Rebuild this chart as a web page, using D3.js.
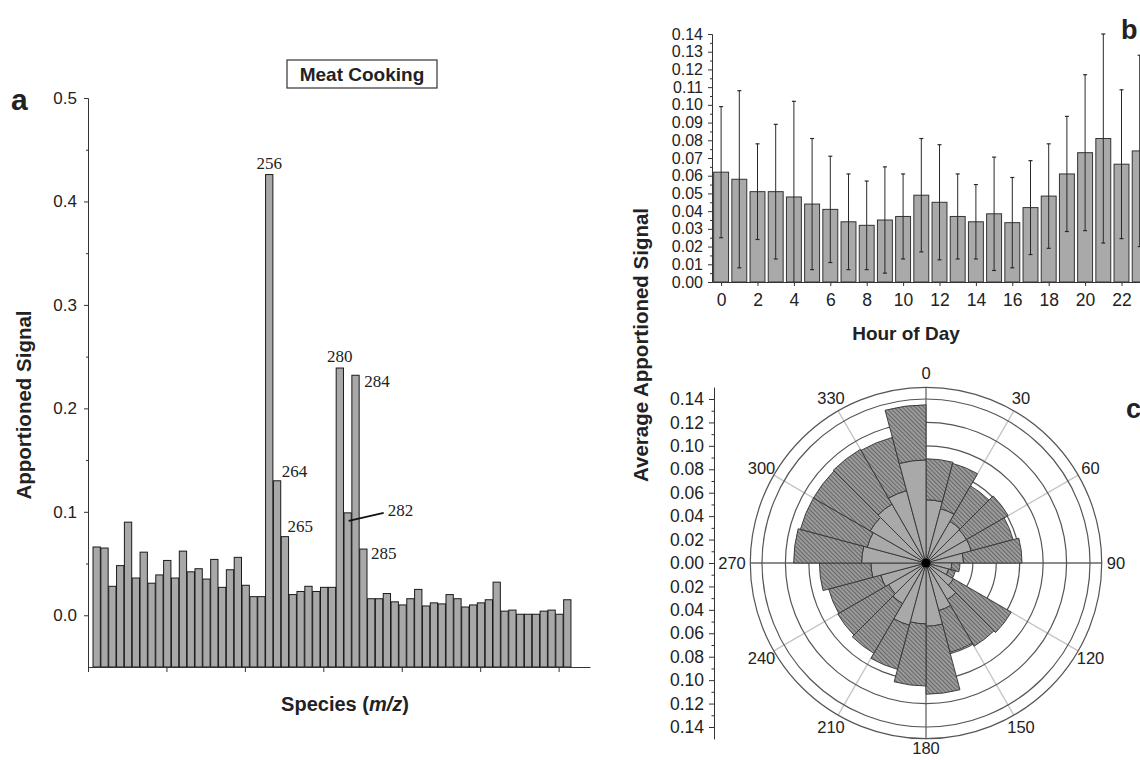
<!DOCTYPE html>
<html><head><meta charset="utf-8">
<script src="https://cdn.jsdelivr.net/npm/d3@7"></script>
<style>
body{margin:0;background:#fff}
svg{display:block}
text{font-family:"Liberation Sans",Arial,sans-serif;fill:#222}
</style>
</head><body>
<svg id="chart" width="1140" height="760"></svg>
<script>
// ---------- DATA ----------
// Panel a: apportioned signal per species (61 categories, m/z order)
const speciesSignal = [
  0.066,0.065,0.028,0.048,0.090,0.036,0.061,0.031,0.039,0.053,
  0.036,0.062,0.042,0.045,0.035,0.054,0.027,0.044,0.056,0.029,
  0.018,0.018,0.426,0.130,0.076,0.020,0.023,0.028,0.023,0.027,
  0.027,0.239,0.099,0.232,0.064,0.016,0.016,0.021,0.013,0.010,
  0.016,0.025,0.009,0.012,0.011,0.020,0.016,0.008,0.010,0.012,
  0.015,0.032,0.004,0.005,0.001,0.001,0.001,0.004,0.005,0.001,
  0.015
];
const annotIndex = [22,23,24,31,32,33,34];
const annotText  = ["256","264","265","280","282","284","285"];
const yTicksA = [0.0,0.1,0.2,0.3,0.4,0.5];

// Panel b: hour of day
const hours    = [0,1,2,3,4,5,6,7,8,9,10,11,12,13,14,15,16,17,18,19,20,21,22,23];
const hourMean = [0.062,0.058,0.051,0.051,0.048,0.044,0.041,0.034,0.032,0.035,0.037,0.049,
                  0.045,0.037,0.034,0.0385,0.0335,0.042,0.0485,0.061,0.073,0.081,0.0665,0.074];
const hourSD   = [0.037,0.050,0.027,0.038,0.054,0.037,0.030,0.027,0.025,0.030,0.024,0.032,
                  0.0325,0.024,0.021,0.032,0.0255,0.0265,0.0295,0.0325,0.044,0.059,0.042,0.054];
const hourTickLabels = [0,2,4,6,8,10,12,14,16,18,20,22];

// Panel c: wind direction rose (15 degree bins)
const dirStart = [0,15,30,45,60,75,90,105,120,135,150,165,180,195,210,225,240,255,270,285,300,315,330,345];
const roseInner = [0.054,0.048,0.041,0.040,0.040,0.032,0.022,0.020,0.027,0.036,0.042,0.054,
                   0.052,0.055,0.040,0.037,0.040,0.047,0.055,0.052,0.055,0.058,0.064,0.088];
const roseOuter = [0.089,0.088,0.076,0.081,0.077,0.082,0.029,0.026,0.084,0.082,0.079,0.112,
                   0.105,0.094,0.089,0.087,0.086,0.091,0.113,0.111,0.111,0.112,0.111,0.135];
const angleLabels = [0,30,60,90,120,150,180,210,240,270,300,330];

// ---------- DRAW ----------
const svg = d3.select("#chart");
const FONT = '"Liberation Sans",Arial,sans-serif';

function styleAxis(g, size){
  g.attr("font-family", FONT).attr("font-size", size);
  g.selectAll("path,line").attr("stroke","#333").attr("stroke-width",1);
  g.selectAll("text").attr("fill","#222");
}

// ===== Panel a =====
const xA = d3.scaleLinear().domain([0,64]).range([88,590]);
const yA = d3.scaleLinear().domain([-0.05,0.5]).range([667,98]);
const gA = svg.append("g");

gA.selectAll("rect").data(speciesSignal).join("rect")
  .attr("x",(d,i)=>xA(i+0.64))
  .attr("width", xA(0.93)-xA(0))
  .attr("y", d=>yA(d))
  .attr("height", d=>yA(-0.05)-yA(d))
  .attr("fill","#a8a8a8").attr("stroke","#1a1a1a").attr("stroke-width",1);

const axA = gA.append("g").attr("transform","translate(88,0)")
  .call(d3.axisLeft(yA).tickValues(yTicksA).tickFormat(d3.format(".1f")).tickSize(4).tickSizeOuter(0).tickPadding(7));
styleAxis(axA, 17);
const axAm = gA.append("g").attr("transform","translate(88,0)")
  .call(d3.axisLeft(yA).tickValues([0.05,0.15,0.25,0.35,0.45]).tickFormat("").tickSize(2).tickSizeOuter(0));
styleAxis(axAm, 17);
const axAx = gA.append("g").attr("transform","translate(0,667)")
  .call(d3.axisBottom(xA).tickValues([0,10,20,30,40,50,60]).tickFormat("").tickSize(5).tickSizeOuter(0));
styleAxis(axAx, 17);

// annotations
const barW = xA(0.93)-xA(0);
annotIndex.forEach((idx,k)=>{
  const v = speciesSignal[idx];
  const left = xA(idx+0.64), right = left+barW, cx = left+barW/2, top = yA(v);
  const t = annotText[k];
  let x, y, anchor="start";
  if (t==="256" || t==="280"){ x=cx; y=top-6; anchor="middle"; }
  else if (t==="264"){ x=right+1; y=top-4; }
  else if (t==="265"){ x=right-1; y=top-5; }
  else if (t==="284"){ x=right+5; y=top+12; }
  else if (t==="285"){ x=right+4; y=top+10; }
  else if (t==="282"){
    x=cx+40; y=top+3;
    gA.append("line").attr("x1",cx+1).attr("y1",top+8).attr("x2",cx+36).attr("y2",top)
      .attr("stroke","#111").attr("stroke-width",1.6);
  }
  gA.append("text").attr("x",x).attr("y",y).attr("text-anchor",anchor)
    .style("font-family",'"Liberation Serif","Times New Roman",serif')
    .attr("font-size",17).text(t);
});

// title box
gA.append("rect").attr("x",287).attr("y",60).attr("width",150).attr("height",28)
  .attr("fill","#fff").attr("stroke","#333").attr("stroke-width",1.2);
gA.append("text").attr("x",362).attr("y",81).attr("text-anchor","middle")
  .attr("font-size",19).attr("font-weight","bold").text("Meat Cooking");

gA.append("text").attr("transform","translate(31,405) rotate(-90)").attr("text-anchor","middle")
  .attr("font-size",20.5).attr("font-weight","bold").text("Apportioned Signal");
const xt = gA.append("text").attr("x",345).attr("y",711).attr("text-anchor","middle")
  .attr("font-size",20).attr("font-weight","bold");
xt.append("tspan").text("Species (");
xt.append("tspan").attr("font-style","italic").text("m/z");
xt.append("tspan").text(")");
gA.append("text").attr("x",11).attr("y",110).attr("font-size",30).attr("font-weight","bold").text("a");

// ===== Panel b =====
const xB = d3.scaleLinear().domain([-0.5,23.5]).range([712,712+24*18.2]);
const yB = d3.scaleLinear().domain([0,0.14]).range([282,34]);
const gB = svg.append("g");
const bw = xB(0.82)-xB(0);

gB.selectAll("rect").data(hours).join("rect")
  .attr("x",h=>xB(h)-bw/2).attr("width",bw)
  .attr("y",(h,i)=>yB(hourMean[i])).attr("height",(h,i)=>yB(0)-yB(hourMean[i]))
  .attr("fill","#a9a9a9").attr("stroke","#333").attr("stroke-width",1);

hours.forEach((h,i)=>{
  const lo = Math.max(0, hourMean[i]-hourSD[i]), hi = hourMean[i]+hourSD[i];
  const cx = xB(h);
  gB.append("line").attr("x1",cx).attr("x2",cx).attr("y1",yB(lo)).attr("y2",yB(hi))
    .attr("stroke","#2a2a2a").attr("stroke-width",1);
  gB.append("line").attr("x1",cx-2).attr("x2",cx+2).attr("y1",yB(hi)).attr("y2",yB(hi))
    .attr("stroke","#2a2a2a").attr("stroke-width",1.2);
  if (hourMean[i]-hourSD[i] > 0)
    gB.append("line").attr("x1",cx-2).attr("x2",cx+2).attr("y1",yB(lo)).attr("y2",yB(lo))
      .attr("stroke","#2a2a2a").attr("stroke-width",1.2);
});

const bTicks = d3.range(0,15).map(k=>k*0.01);
const axB = gB.append("g").attr("transform","translate(712,0)")
  .call(d3.axisLeft(yB).tickValues(bTicks).tickFormat(d3.format(".2f")).tickSize(4).tickSizeOuter(0).tickPadding(5));
styleAxis(axB, 16);
const axBm = gB.append("g").attr("transform","translate(712,0)")
  .call(d3.axisLeft(yB).tickValues(d3.range(0,14).map(k=>k*0.01+0.005)).tickFormat("").tickSize(2).tickSizeOuter(0));
styleAxis(axBm, 16);
const axBx = gB.append("g").attr("transform","translate(0,282)")
  .call(d3.axisBottom(xB).tickValues(hourTickLabels).tickFormat(d3.format("d")).tickSize(4).tickSizeOuter(0).tickPadding(8));
styleAxis(axBx, 17.5);

gB.append("text").attr("x",906).attr("y",340).attr("text-anchor","middle")
  .attr("font-size",19).attr("font-weight","bold").text("Hour of Day");
gB.append("text").attr("x",1121).attr("y",39).attr("font-size",27).attr("font-weight","bold").text("b");

// ===== Panel c =====
const cx = 926, cy = 563;
const rC = d3.scaleLinear().domain([0,0.14]).range([0,164]);
const gC = svg.append("g");
const defs = svg.append("defs");
const pat = defs.append("pattern").attr("id","hatch").attr("patternUnits","userSpaceOnUse")
  .attr("width",3).attr("height",3).attr("patternTransform","rotate(-45)");
pat.append("rect").attr("width",3).attr("height",3).attr("fill","#9b9b9b");
pat.append("line").attr("x1",0).attr("y1",0).attr("x2",0).attr("y2",3)
  .attr("stroke","#3c3c3c").attr("stroke-width",1.1);

const gc = gC.append("g").attr("transform",`translate(${cx},${cy})`);
const Rmax = rC(0.15);
// spokes
angleLabels.forEach(a=>{
  const rad = a*Math.PI/180;
  const major = a%90===0;
  gc.append("line").attr("x1",0).attr("y1",0)
    .attr("x2",Rmax*Math.sin(rad)).attr("y2",-Rmax*Math.cos(rad))
    .attr("stroke", major?"#666":"#c4c4c4").attr("stroke-width",1.3);
});
// rings
[0.02,0.04,0.06,0.08,0.10,0.12,0.14,0.15].forEach(v=>{
  gc.append("circle").attr("r",rC(v)).attr("fill","none").attr("stroke","#555").attr("stroke-width",1.2);
});
// wedges
const arc = d3.arc();
dirStart.forEach((a,i)=>{
  const a0 = a*Math.PI/180, a1 = (a+15)*Math.PI/180;
  gc.append("path").attr("d",arc({innerRadius:0,outerRadius:rC(roseInner[i]),startAngle:a0,endAngle:a1}))
    .attr("fill","#a9a9a9").attr("stroke","#333").attr("stroke-width",0.9);
  gc.append("path").attr("d",arc({innerRadius:rC(roseInner[i]),outerRadius:rC(roseOuter[i]),startAngle:a0,endAngle:a1}))
    .attr("fill","url(#hatch)").attr("stroke","#333").attr("stroke-width",0.9);
});
gc.append("circle").attr("r",4.5).attr("fill","#000");
// angle labels
angleLabels.forEach(a=>{
  const rad = a*Math.PI/180, rr = a===270?194:(a===180?185:190);
  gc.append("text").attr("x",rr*Math.sin(rad)).attr("y",-rr*Math.cos(rad)).attr("dy","0.36em")
    .attr("text-anchor","middle").attr("font-size",16.5).text(a);
});
// radial axis
const yC = d3.scaleLinear().domain([-0.15,0.15]).range([cy+rC(0.15), cy-rC(0.15)]);
const cTicks = d3.range(-7,8).map(k=>k*0.02);
const axC = gC.append("g").attr("transform","translate(714,0)")
  .call(d3.axisLeft(yC).tickValues(cTicks).tickFormat(d=>d3.format(".2f")(Math.abs(d))).tickSize(5).tickSizeOuter(0).tickPadding(5));
styleAxis(axC, 17.5);
const axCm = gC.append("g").attr("transform","translate(714,0)")
  .call(d3.axisLeft(yC).tickValues(d3.range(-7,7).map(k=>k*0.02+0.01)).tickFormat("").tickSize(2.5).tickSizeOuter(0));
styleAxis(axCm, 17.5);

gC.append("text").attr("transform","translate(648,345) rotate(-90)").attr("text-anchor","middle")
  .attr("font-size",20.5).attr("font-weight","bold").text("Average Apportioned Signal");
gC.append("text").attr("x",1126).attr("y",418).attr("font-size",27).attr("font-weight","bold").text("c");
</script>
</body></html>
